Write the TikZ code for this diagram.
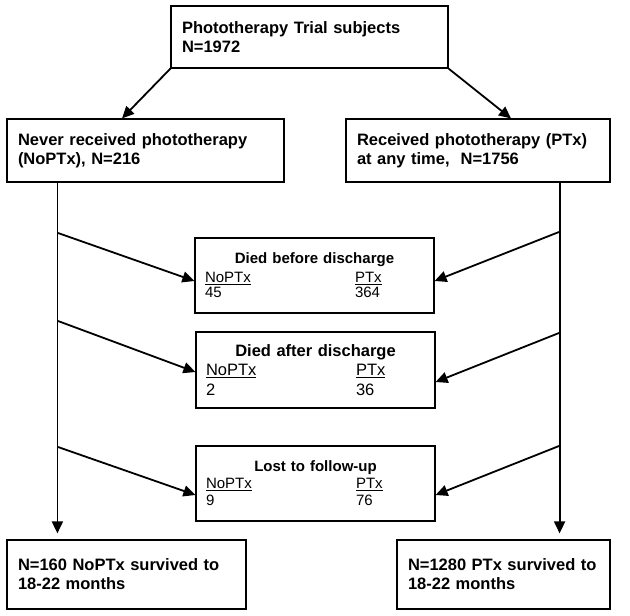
\documentclass[tikz,border=0pt]{standalone}
\usepackage{fontspec}
\setmainfont{Liberation Sans}
\usetikzlibrary{arrows.meta,calc}

\tikzstyle{block} = [rectangle, draw, line width=1.2pt, inner xsep=11pt, inner ysep=0pt,
align=left, font=\fontsize{16.5}{19}\selectfont\bfseries]
\tikzstyle{count} = [rectangle, draw, line width=1.2pt, inner xsep=10pt, inner ysep=0pt,
text width=219pt, minimum height=75pt, align=left]
\tikzstyle{line} = [draw, line width=1.8pt, -{Triangle[length=12pt,width=11pt]}]

\newcommand{\twocol}[2]{\makebox[150pt][l]{#1}#2}

\begin{document}
\begin{tikzpicture}[x=1pt, y=-1pt]
		\useasboundingbox (0,0) rectangle (630,616);

		\node [block, text width=255pt, minimum height=62pt] (Trial) at (309.5,37) {Phototherapy Trial subjects\\N=1972};
		\node [block, text width=255pt, minimum height=63pt] (NoPTx) at (145.5,150.5) {Never received phototherapy\\(NoPTx), N=216};
		\node [block, text width=242pt, minimum height=63pt] (PTx) at (478,150.5) {Received phototherapy (PTx)\\at any time,~ N=1756};

		\node [count, font=\fontsize{15}{17}\selectfont] (DiedBefore) at (314.5,275.5) {\makebox[\linewidth][c]{\bfseries Died before discharge}\\[2pt]
			\twocol{\underline{NoPTx}}{\underline{PTx}}\\[-2pt] \twocol{45}{364}};
		\node [count, minimum height=76pt, font=\fontsize{16.5}{19.5}\selectfont] (DiedAfter) at (315.5,370) {\makebox[\linewidth][c]{\bfseries Died after discharge}\\
			\twocol{\underline{NoPTx}}{\underline{PTx}}\\ \twocol{2}{36}};
		\node [count, font=\fontsize{15}{17}\selectfont] (Lost) at (315.5,483.5) {\makebox[\linewidth][c]{\bfseries Lost to follow-up}\\
			\twocol{\underline{NoPTx}}{\underline{PTx}}\\ \twocol{9}{76}};

		\node [block, text width=217pt, minimum height=69pt] (SurvNoPTx) at (126.5,574.5) {N=160 NoPTx survived to\\18-22 months\\[6pt]};
		\node [block, text width=191pt, minimum height=69pt] (SurvPTx) at (503.5,574.5) {N=1280 PTx survived to\\18-22 months\\[6pt]};

		% split
		\path [line] (Trial.south west) -- ([xshift=-23.5pt]NoPTx.north);
		\path [line] (Trial.south east) -- ([xshift=33pt]PTx.north);

		% main branches
		\path [line, shorten >=6pt] ([xshift=51pt]NoPTx.south west) -- ([xshift=51pt]SurvNoPTx.north west);
		\path [line, shorten >=6pt] ([xshift=-51pt]PTx.south east) -- ([xshift=-51pt]SurvPTx.north east);

		\coordinate (L1) at (58,233);
		\coordinate (L2) at (58,321);
		\coordinate (L3) at (58,447);
		\coordinate (R1) at (559,232);
		\coordinate (R2) at (559,333);
		\coordinate (R3) at (559,446);

		% losses
		\path [line] (L1) -- ($(DiedBefore.west)+(0,5.5)$);
		\path [line] (L2) -- ($(DiedAfter.west)+(0,2)$);
		\path [line] (L3) -- ($(Lost.west)+(0,11.5)$);
		\path [line] (R1) -- ($(DiedBefore.east)+(0,5.5)$);
		\path [line] (R2) -- ($(DiedAfter.east)+(0,12)$);
		\path [line] (R3) -- ($(Lost.east)+(0,11.5)$);
	\end{tikzpicture}
\end{document}
